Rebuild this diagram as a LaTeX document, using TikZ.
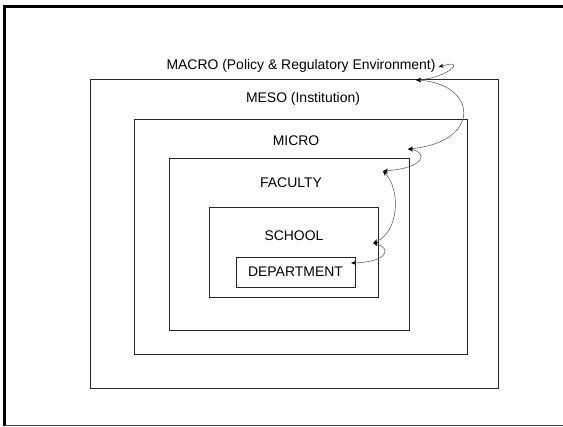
\documentclass[tikz,border=0pt]{standalone}
\usepackage{fontspec}
\setmainfont{Liberation Sans}
\usetikzlibrary{arrows.meta}
\begin{document}
\begin{tikzpicture}[x=1bp,y=-1bp,
  level/.style={draw=black!85,line width=0.8bp,inner sep=0pt,minimum width=#1},
  lbl/.style={font=\fontsize{14}{16}\selectfont,inner sep=1pt},
  tip/.style={Stealth[length=5bp,width=4bp,black]},
  link/.style={draw=black!70,line width=0.5bp,{Stealth[length=5bp,width=4bp,black]}-{Stealth[length=5bp,width=4bp,black]}}]
  \useasboundingbox (0,0) rectangle (563,426);
  % page frame
  \draw[line width=3bp] (563,6) -- (4.5,6) -- (4.5,426);
  \draw[black!75,line width=1bp] (4.5,425) -- (563,425);

  % nested levels
  \node[level=408bp,minimum height=309bp] (macro) at (294,233.5) {};
  \node[level=333bp,minimum height=235bp] (meso) at (300.5,236.5) {};
  \node[level=240bp,minimum height=172bp] (micro) at (289,244) {};
  \node[level=169bp,minimum height=90bp] (faculty) at (293.5,252) {};
  \node[level=119bp,minimum height=30bp,lbl] (dept) at (295.5,272) {DEPARTMENT};

  % level names
  \node[lbl] (tmacro) at (301,66) {MACRO (Policy \& Regulatory Environment)};
  \node[lbl] (tmeso) at (303,99) {MESO (Institution)};
  \node[lbl] (tmicro) at (296,141) {MICRO};
  \node[lbl] (tfac) at (291,183) {FACULTY};
  \node[lbl] (tschool) at (294,236) {SCHOOL};

  % junction points of the linking chain
  \coordinate (j0) at ([xshift=2bp,yshift=-1bp]tmacro.east);
  \coordinate (j1) at (416,80);
  \coordinate (j2) at (408,149);
  \coordinate (j3) at (383,171);
  \coordinate (j4) at (373,243);
  \coordinate (j5) at (351,263);

  \draw[link] (j1) .. controls (448,78) and (468,58) .. (j0);
  \draw[link] (j1) .. controls (478,84) and (482,142) .. (j2);
  \draw[link] (j2) .. controls (428,152) and (426,168) .. (j3);
  \draw[link] (j3) .. controls (401,190) and (399,232) .. (j4);
  \draw[link] (j4) .. controls (392,248) and (388,262) .. (j5);
\end{tikzpicture}
\end{document}
